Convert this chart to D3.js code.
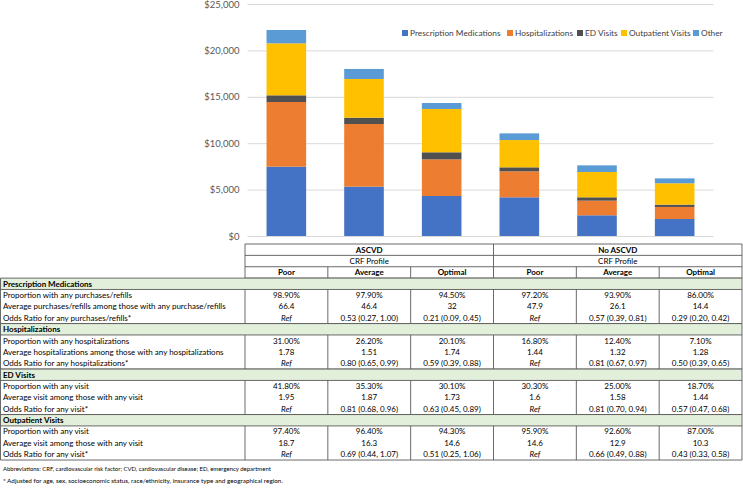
<!DOCTYPE html>
<html><head><meta charset="utf-8">
<script src="https://cdn.jsdelivr.net/npm/d3@7"></script>
<style>
html,body{margin:0;padding:0;background:#fff;}
svg{display:block;font-family:Lato,"Open Sans",sans-serif;}
</style></head>
<body>
<svg id="c" width="743" height="491"></svg>
<script>
// ---------- Chart data ----------
const categories = ["ASCVD Poor","ASCVD Average","ASCVD Optimal","No ASCVD Poor","No ASCVD Average","No ASCVD Optimal"];
const seriesNames = ["Prescription Medications","Hospitalizations","ED Visits","Outpatient Visits","Other"];
const prescriptionMedications = [7470, 5320, 4310, 4170, 2230, 1830];
const hospitalizations       = [6970, 6750, 3950, 2800, 1580, 1300];
const edVisits               = [720, 680, 760, 430, 360, 250];
const outpatientVisits       = [5600, 4170, 4670, 2940, 2730, 2300];
const otherCosts             = [1440, 1080, 640, 720, 710, 530];
const yTicks = [0, 5000, 10000, 15000, 20000, 25000];
const colors = ["#4472C4","#ED7D31","#505050","#FFC000","#5B9BD5"];

// ---------- Table data ----------
const groupHeaders = ["ASCVD","No ASCVD"];
const subHeader = "CRF Profile";
const profileLabels = ["Poor","Average","Optimal","Poor","Average","Optimal"];
const sectionTitles = ["Prescription Medications","Hospitalizations","ED Visits","Outpatient Visits"];
const rxRowLabels = ["Proportion with any purchases/refills","Average purchases/refills among those with any purchase/refills","Odds Ratio for any purchases/refills*"];
const rxRows = [
  ["98.90%","97.90%","94.50%","97.20%","93.90%","86.00%"],
  ["66.4","46.4","32","47.9","26.1","14.4"],
  ["Ref","0.53 (0.27, 1.00)","0.21 (0.09, 0.45)","Ref","0.57 (0.39, 0.81)","0.29 (0.20, 0.42)"]
];
const hospRowLabels = ["Proportion with any hospitalizations","Average hospitalizations among those with any hospitalizations","Odds Ratio for any hospitalizations*"];
const hospRows = [
  ["31.00%","26.20%","20.10%","16.80%","12.40%","7.10%"],
  ["1.78","1.51","1.74","1.44","1.32","1.28"],
  ["Ref","0.80 (0.65, 0.99)","0.59 (0.39, 0.88)","Ref","0.81 (0.67, 0.97)","0.50 (0.39, 0.65)"]
];
const edRowLabels = ["Proportion with any visit","Average visit among those with any visit","Odds Ratio for any visit*"];
const edRows = [
  ["41.80%","35.30%","30.10%","30.30%","25.00%","18.70%"],
  ["1.95","1.87","1.73","1.6","1.58","1.44"],
  ["Ref","0.81 (0.68, 0.96)","0.63 (0.45, 0.89)","Ref","0.81 (0.70, 0.94)","0.57 (0.47, 0.68)"]
];
const opRowLabels = ["Proportion with any visit","Average visit among those with any visit","Odds Ratio for any visit*"];
const opRows = [
  ["97.40%","96.40%","94.30%","95.90%","92.60%","87.00%"],
  ["18.7","16.3","14.6","14.6","12.9","10.3"],
  ["Ref","0.69 (0.44, 1.07)","0.51 (0.25, 1.06)","Ref","0.66 (0.49, 0.88)","0.43 (0.33, 0.58)"]
];
const footnotes = ["Abbreviations: CRF, cardiovascular risk factor; CVD, cardiovascular disease; ED, emergency department",
                   "* Adjusted for age, sex, socioeconomic status, race/ethnicity, insurance type and geographical region."];

const svg = d3.select("#c");

// ---------- Chart ----------
const plotL = 247.5, plotR = 713.5, plotT = 4, plotB = 236;
const x = d3.scaleBand().domain(categories).range([plotL, plotR]).paddingInner(0.49).paddingOuter(0.245);
const y = d3.scaleLinear().domain([0, 25000]).range([plotB, plotT]);

const yAxis = d3.axisLeft(y).tickValues(yTicks).tickSize(-(plotR - plotL)).tickFormat(d => "$" + d3.format(",")(d));
const gy = svg.append("g").attr("transform", `translate(${plotL},0)`).call(yAxis);
gy.select(".domain").remove();
gy.selectAll(".tick line").attr("stroke", "#d9d9d9").attr("stroke-width", 1);
gy.selectAll(".tick text").attr("x", -8).attr("fill", "#595959").style("font-size", "9.5px").style("font-family", "Lato");

const table = categories.map((c, i) => ({
  cat: c,
  "Prescription Medications": prescriptionMedications[i],
  "Hospitalizations": hospitalizations[i],
  "ED Visits": edVisits[i],
  "Outpatient Visits": outpatientVisits[i],
  "Other": otherCosts[i]
}));
const stacked = d3.stack().keys(seriesNames)(table);
svg.append("g").selectAll("g").data(stacked).join("g")
  .attr("fill", (d, i) => colors[i])
  .selectAll("rect").data(d => d).join("rect")
  .attr("x", d => x(d.data.cat))
  .attr("width", x.bandwidth())
  .attr("y", d => y(d[1]))
  .attr("height", d => y(d[0]) - y(d[1]));

// legend
const legendX = [402, 507, 577, 621, 693];
const lg = svg.append("g").selectAll("g").data(seriesNames).join("g")
  .attr("transform", (d, i) => `translate(${legendX[i]},33)`);
lg.append("rect").attr("x", 0).attr("y", -3).attr("width", 6).attr("height", 6).attr("fill", (d, i) => colors[i]);
lg.append("text").attr("x", 8).attr("y", 0).attr("dy", "0.35em").text(d => d)
  .attr("fill", "#404040").style("font-size", "8.3px");

// ---------- Table ----------
const tL = 245, tR = 742, tTop = 244, rowH = 11.37;
const colX = d3.scaleLinear().domain([0, 6]).range([tL, tR]);
const lineC = "#595959";
const fs = "8px";
const tg = svg.append("g");

function hline(x1, x2, yy) { tg.append("line").attr("x1", x1).attr("x2", x2).attr("y1", yy).attr("y2", yy).attr("stroke", lineC).attr("stroke-width", 0.9); }
function vline(xx, y1, y2) { tg.append("line").attr("x1", xx).attr("x2", xx).attr("y1", y1).attr("y2", y2).attr("stroke", lineC).attr("stroke-width", 0.9); }
function txt(xx, yy, s, anchor, weight, style) {
  tg.append("text").attr("x", xx).attr("y", yy).attr("dy", "0.36em").attr("text-anchor", anchor)
    .style("font-size", fs).style("font-weight", weight || "normal").style("font-style", style || "normal")
    .attr("fill", "#000").text(s);
}

// header rows
for (let r = 0; r <= 3; r++) hline(tL, tR, tTop + r * rowH);
vline(tL, tTop, tTop + 3 * rowH);
vline(tR, tTop, tTop + 3 * rowH);
vline(colX(3), tTop, tTop + 2 * rowH);
for (let c = 1; c < 6; c++) vline(colX(c), tTop + 2 * rowH, tTop + 3 * rowH);
groupHeaders.forEach((g, i) => {
  txt((colX(i * 3) + colX(i * 3 + 3)) / 2, tTop + rowH * 0.5, g, "middle", "bold");
  txt((colX(i * 3) + colX(i * 3 + 3)) / 2, tTop + rowH * 1.5, subHeader, "middle");
});
profileLabels.forEach((p, i) => txt((colX(i) + colX(i + 1)) / 2, tTop + rowH * 2.5, p, "middle", "bold"));

// body sections
const sections = [
  {title: sectionTitles[0], labels: rxRowLabels, rows: rxRows},
  {title: sectionTitles[1], labels: hospRowLabels, rows: hospRows},
  {title: sectionTitles[2], labels: edRowLabels, rows: edRows},
  {title: sectionTitles[3], labels: opRowLabels, rows: opRows}
];
const bodyTop = tTop + 3 * rowH;
sections.forEach((s, si) => {
  const sy = bodyTop + si * 4 * rowH;
  tg.append("rect").attr("x", 0.5).attr("y", sy).attr("width", tR - 0.5).attr("height", rowH).attr("fill", "#E2EFDA");
  txt(3, sy + rowH / 2, s.title, "start", "bold");
  s.labels.forEach((l, ri) => {
    txt(3, sy + rowH * (ri + 1.5), l, "start");
    s.rows[ri].forEach((v, ci) => {
      txt((colX(ci) + colX(ci + 1)) / 2, sy + rowH * (ri + 1.5), v, "middle", "normal", v === "Ref" ? "italic" : "normal");
    });
  });
  hline(0.5, tR, sy);
  hline(0.5, tR, sy + rowH);
  hline(0.5, tR, sy + 4 * rowH);
  vline(0.5, sy, sy + 4 * rowH);
  vline(tR, sy, sy + 4 * rowH);
  for (let c = 0; c < 6; c++) vline(colX(c), sy + rowH, sy + 4 * rowH);
});

// footnotes (font size fitted so the line spans the same width as in the source)
const footWidths = [268, 280];
footnotes.forEach((f, i) => {
  const t = svg.append("text").attr("x", 3).attr("y", 469 + i * 12).attr("dy", "0.35em")
    .style("font-size", "7px").attr("fill", "#000").text(f);
  const w = t.node().getComputedTextLength();
  if (w > 0) t.style("font-size", (7 * footWidths[i] / w).toFixed(2) + "px");
});
</script>
</body></html>
